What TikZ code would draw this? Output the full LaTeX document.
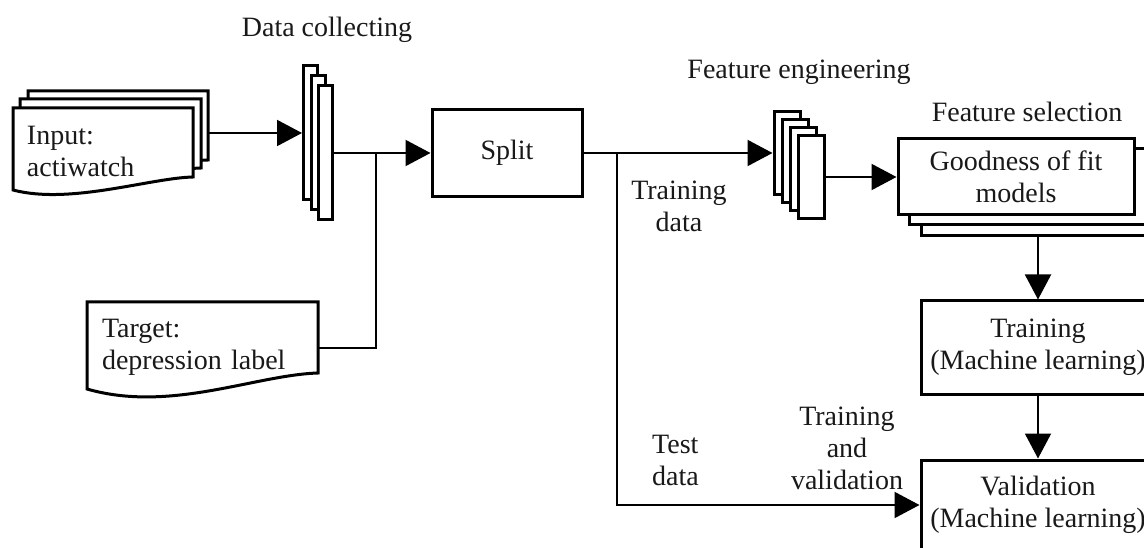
\documentclass[tikz,border=0pt]{standalone}
\usepackage{fontspec}
\setmainfont{Liberation Serif}
\usetikzlibrary{arrows.meta}
\begin{document}
\begin{tikzpicture}[x=1pt,y=-1pt,
  txt/.style={font=\fontsize{28}{32}\selectfont, inner sep=0pt, align=center, text=black!90},
  boxn/.style={txt, draw=black, line width=3pt, fill=white},
  ghost/.style={draw=none, inner sep=0pt},
  docst/.style={draw=black, line width=3pt, fill=white, line join=miter},
  conn/.style={draw=black, line width=2pt},
  arr/.style={conn, -{Triangle[length=25pt,width=26pt]}}]
\useasboundingbox (0,0) rectangle (1144,548);
\clip (0,0) rectangle (1144,548);

% ---- input document stack
\path[docst] (28,91) -- (208,91) -- (208,160) .. controls (165,161) and (85,188) .. (28,173) -- cycle;
\path[docst] (20,99) -- (201,99) -- (201,168) .. controls (158,169) and (78,196) .. (20,181) -- cycle;
\path[docst] (13,108) -- (193,108) -- (193,177) .. controls (150,178) and (70,205) .. (13,190) -- cycle;
\node[ghost, minimum width=180, minimum height=84] (inpback) at (118,133) {};
\node[txt, align=left, text width=152] (inp) at (103,151) {Input:\\actiwatch};

% ---- target document
\path[docst] (87,302) -- (318,302) -- (318,373) .. controls (255,375) and (170,413) .. (87,389) -- cycle;
\node[ghost, minimum width=231, minimum height=92] (tgt) at (202.5,348) {};
\node[txt, align=left, text width=200] (tgttext) at (202,347) {Target:\\depression label};

% ---- data collecting stack
\node[boxn, minimum width=14, minimum height=134] (dc1) at (310.5,133) {};
\node[boxn, minimum width=14, minimum height=134] (dc2) at (318,143) {};
\node[boxn, minimum width=14, minimum height=134] (dc3) at (325.5,153) {};
\node[txt] (dclabel) at (327,30) {Data collecting};

% ---- split
\node[boxn, minimum width=150, minimum height=87] (split) at (507,153) {Split};

% ---- feature engineering stack
\node[boxn, minimum width=26, minimum height=83] (fe1) at (787,153) {};
\node[boxn, minimum width=26, minimum height=83] (fe2) at (795,161) {};
\node[boxn, minimum width=26, minimum height=83] (fe3) at (803,169) {};
\node[boxn, minimum width=26, minimum height=83] (fe4) at (811,177) {};
\node[txt] (felabel) at (799,72) {Feature engineering};

% ---- feature selection stack
\node[boxn, minimum width=234, minimum height=76] (gof3) at (1038,198) {};
\node[boxn, minimum width=236, minimum height=76] (gof2) at (1027,187) {};
\node[boxn, minimum width=236, minimum height=76] (gof) at (1016,177) {Goodness of fit\\models};
\node[txt] (fslabel) at (1027,112) {Feature selection};

% ---- training / validation
\node[boxn, minimum width=234, minimum height=93] (train) at (1038,347.5) {Training\\(Machine learning)};
\node[boxn, minimum width=234, minimum height=90] (valid) at (1038,505) {Validation\\(Machine learning)};

% ---- junctions
\coordinate (j1) at (376,153);
\coordinate (j2) at (617,153);

% ---- connectors
\draw[arr] (inpback.east) -- (dc1.west);
\draw[arr] (dc3.east) -- (split.west);
\draw[conn] (tgt.east) -| (j1);
\draw[arr] (split.east) -- (fe1.west);
\draw[arr] (j2) |- (valid.west);
\draw[arr] (fe4.east) -- (gof.west);
\draw[arr] (gof3.south) -- (train.north);
\draw[arr] (train.south) -- (valid.north);

% ---- edge labels
\node[txt] (trdata) at (679,206) {Training\\data};
\node[txt, align=left, anchor=west] (tsdata) at (652,460) {Test\\data};
\node[txt] (trval) at (847,448) {Training\\and\\validation};
\end{tikzpicture}
\end{document}
